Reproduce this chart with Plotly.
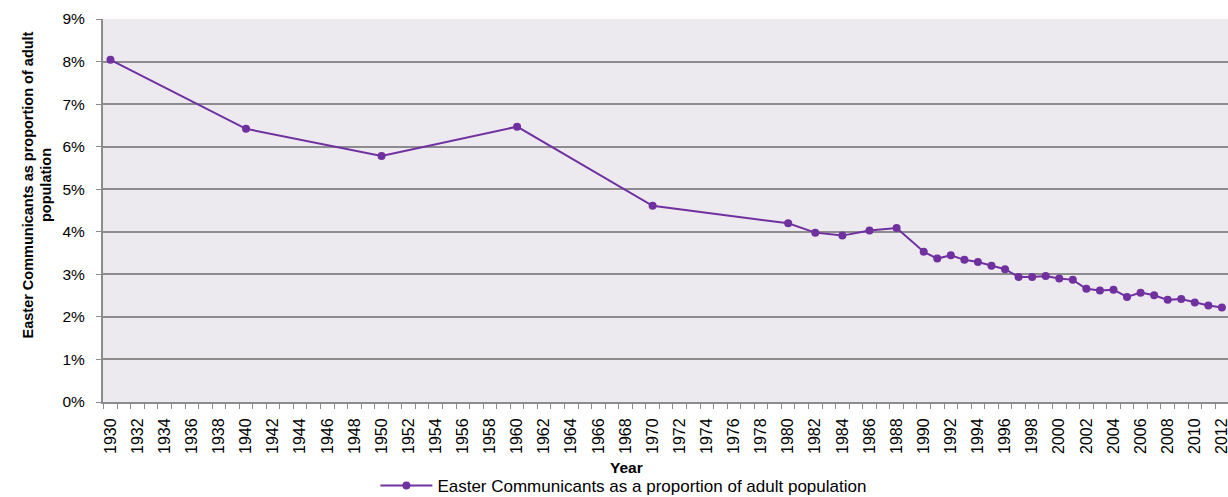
import plotly.graph_objects as go

years = [1930, 1940, 1950, 1960, 1970, 1980, 1982, 1984, 1986, 1988,
         1990, 1991, 1992, 1993, 1994, 1995, 1996, 1997, 1998, 1999,
         2000, 2001, 2002, 2003, 2004, 2005, 2006, 2007, 2008, 2009,
         2010, 2011, 2012]
proportion = [8.04, 6.42, 5.78, 6.47, 4.61, 4.20, 3.98, 3.91, 4.03, 4.09,
              3.53, 3.37, 3.45, 3.34, 3.29, 3.20, 3.12, 2.94, 2.94, 2.96,
              2.90, 2.87, 2.66, 2.62, 2.64, 2.47, 2.57, 2.51, 2.40, 2.42,
              2.34, 2.27, 2.22]
tick_years = list(range(1930, 2013, 2))
tick_labels = [str(y) for y in tick_years]
y_ticks = list(range(0, 10))
y_tick_labels = [f"{v}%" for v in y_ticks]

series_name = "Easter Communicants as a proportion of adult population"
y_title = "<b>Easter Communicants as proportion of adult<br>population</b>"
x_title = "<b>Year</b>"
purple = "#7030A0"
grid = "#8C8C8C"
FONT = "Liberation Sans, Arial, sans-serif"

fig = go.Figure()
fig.add_trace(go.Scatter(
    x=years, y=proportion, mode="lines+markers", name=series_name,
    line=dict(color=purple, width=2),
    marker=dict(color=purple, size=8, symbol="circle"),
    showlegend=True, cliponaxis=False,
))

fig.update_layout(
    width=1228, height=497,
    margin=dict(l=103, r=0, t=19, b=95, autoexpand=False),
    paper_bgcolor="white",
    plot_bgcolor="#ECE9EF",
    font=dict(family=FONT, size=15, color="black"),
    showlegend=True,
    legend=dict(orientation="h", x=0.463, xanchor="center", y=-0.219, yanchor="middle",
                font=dict(size=17), itemwidth=52, bgcolor="rgba(0,0,0,0)"),
    xaxis=dict(
        range=[1929.45, 2012.45], tickmode="array", tickvals=tick_years, ticktext=tick_labels,
        tickangle=-90, ticks="", showgrid=False, zeroline=False, automargin=False,
        showline=True, linecolor=grid, linewidth=2, ticklabeloverflow="allow",
        tickfont=dict(size=16), ticklabelstandoff=8,
        minor=dict(tickmode="linear", tick0=1929.5, dtick=1, ticks="outside", ticklen=5,
                   tickcolor=grid, tickwidth=1, showgrid=False),
    ),
    yaxis=dict(
        range=[0, 9], tickmode="array", tickvals=y_ticks, ticktext=y_tick_labels,
        ticks="outside", ticklen=5, tickcolor=grid, tickwidth=1, automargin=False,
        showgrid=True, gridcolor=grid, gridwidth=2, zeroline=False,
        showline=True, linecolor=grid, linewidth=2, ticklabeloverflow="allow",
        tickfont=dict(size=15.5), ticklabelstandoff=8,
    ),
    annotations=[
        dict(text=y_title, textangle=-90, xref="paper", yref="paper", x=0, y=0.5,
             xanchor="center", yanchor="middle", xshift=-66, yshift=25, showarrow=False,
             font=dict(size=14.5)),
        dict(text=x_title, xref="paper", yref="paper", x=0.4655, y=0,
             xanchor="center", yanchor="middle", yshift=-65, showarrow=False,
             font=dict(size=15.5)),
    ],
)

fig.write_html(
    "out.html",
    config={"displayModeBar": False},
    post_script="document.body.style.margin='0';document.body.style.overflow='hidden';",
)
